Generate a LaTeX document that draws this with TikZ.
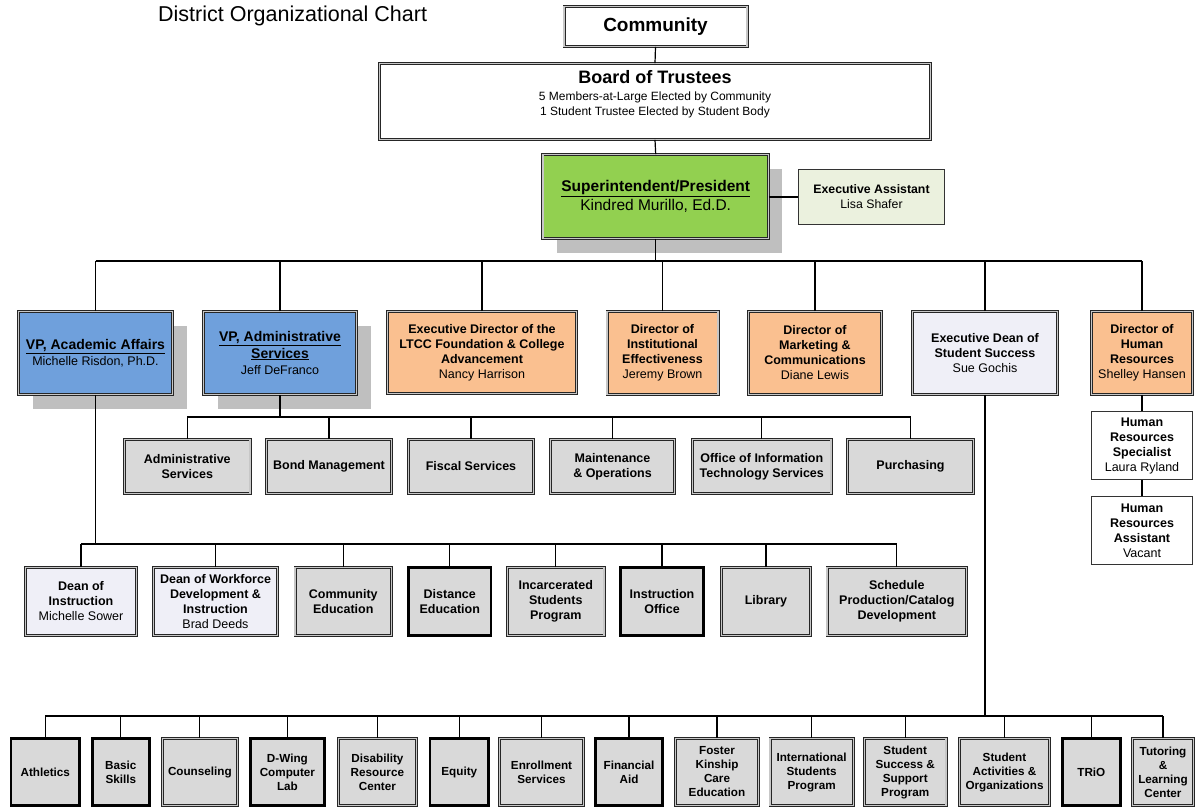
\documentclass[tikz,border=0pt]{standalone}
\usepackage{fontspec}
\setmainfont{Liberation Sans}
\usetikzlibrary{shadows}
\definecolor{supgreen}{HTML}{92D050}
\definecolor{eagreen}{HTML}{EBF1DE}
\definecolor{vpblue}{HTML}{6FA0DC}
\definecolor{peach}{HTML}{FAC090}
\definecolor{lav}{HTML}{EFEFF7}
\definecolor{greybox}{HTML}{D9D9D9}
\definecolor{shadowgrey}{HTML}{BFBFBF}
\newcommand{\fs}[2]{\fontsize{#1}{#2}\selectfont}
\newcommand\bx[7][box]{\node[#1, minimum width={(#5-3)*1pt}, minimum height={(#6-3)*1pt}] (#2) at (#3,#4) {#7};}
\tikzset{
  box/.style={draw=black!85, line width=0.8pt, double=black!22, double distance=1.4pt, align=center, inner sep=1pt, font=\bfseries\fs{12.5}{15}},
  thk/.style={draw=black, line width=2.6pt, align=center, inner sep=1pt, font=\bfseries\fs{11.7}{14}},
  bot/.style={box, font=\bfseries\fs{11.7}{14}, fill=greybox},
  botk/.style={thk, fill=greybox},
  plainbox/.style={draw=black!80, line width=1pt, align=center, inner sep=1pt, font=\bfseries\fs{12.5}{15}},
  conn/.style={draw=black, line width=1.2pt},
  shad/.style={drop shadow={shadow xshift=14pt, shadow yshift=-14pt, fill=shadowgrey, opacity=1}},
}
\begin{document}
\begin{tikzpicture}[x=1pt, y=-1pt]
\useasboundingbox (0,0) rectangle (1196,809);
% title
\node[anchor=base west, inner sep=0pt, font=\fs{21.5}{24}] (title) at (158,21) {District Organizational Chart};
% top
\bx{community}{655.5}{26.5}{186}{43}{\fs{19}{22}Community}
\bx[box, fill=white]{board}{655}{101.5}{554}{79}{}
\node[anchor=north, inner sep=0pt, align=center, font=\fs{12}{15}] (boardtxt) at (655,70)
  {{\bfseries\fs{18}{20}Board of Trustees}\\[2.4pt]5 Members-at-Large Elected by Community\\1 Student Trustee Elected by Student Body};
\bx[box, fill=supgreen, shad, font=\bfseries\fs{15.5}{19}]{super}{655.7}{196.5}{228.5}{87}{\underline{Superintendent/President}\\\mdseries Kindred Murillo, Ed.D.}
\bx[plainbox, fill=eagreen, font=\bfseries\fs{12.3}{15}]{ea}{871.5}{197}{149}{58}{Executive Assistant\\\mdseries Lisa Shafer}
% VP row
\bx[box, fill=vpblue, shad, font=\bfseries\fs{14}{16}]{vpaa}{95.5}{353}{157}{86}{\underline{VP, Academic Affairs}\\\mdseries\fs{12.5}{15}Michelle Risdon, Ph.D.}
\bx[box, fill=vpblue, shad, font=\bfseries\fs{14}{16.5}]{vpas}{280}{353}{156}{86}{\underline{VP, Administrative}\\\underline{Services}\\\mdseries\fs{12.5}{15}Jeff DeFranco}
\bx[box, fill=peach]{edf}{482}{352.5}{191.5}{85}{Executive Director of the\\LTCC Foundation \& College\\Advancement\\\mdseries Nancy Harrison}
\bx[box, fill=peach]{die}{662.5}{353}{114}{86}{Director of\\Institutional\\Effectiveness\\\mdseries Jeremy Brown}
\bx[box, fill=peach]{dmc}{815}{353}{135.5}{86}{Director of\\Marketing \&\\Communications\\\mdseries Diane Lewis}
\bx[box, fill=lav]{eds}{985}{353}{148}{86}{Executive Dean of\\Student Success\\\mdseries Sue Gochis}
\bx[box, fill=peach]{dhr}{1142}{353}{104}{86}{Director of\\Human\\Resources\\\mdseries Shelley Hansen}
% HR staff
\bx[plainbox, fill=white]{hrs}{1142}{445.5}{104}{71}{Human\\Resources\\Specialist\\\mdseries Laura Ryland}
\bx[plainbox, fill=white]{hra}{1142}{530.5}{104}{71}{Human\\Resources\\Assistant\\\mdseries Vacant}
% grey row
\bx[box, fill=greybox]{adms}{187.25}{466.5}{128.5}{57}{Administrative\\Services}
\bx[box, fill=greybox]{bond}{329}{466.5}{128}{57}{Bond Management}
\bx[box, fill=greybox]{fisc}{471}{466.5}{128}{57}{Fiscal Services}
\bx[box, fill=greybox]{mnt}{612.5}{466.5}{127}{57}{Maintenance\\\& Operations}
\bx[box, fill=greybox]{oit}{761.8}{466.5}{141.6}{57}{Office of Information\\Technology Services}
\bx[box, fill=greybox]{purch}{910.5}{466.5}{129}{57}{Purchasing}
% dean row
\bx[box, fill=lav]{doi}{81}{601.5}{114}{71}{Dean of\\Instruction\\\mdseries Michelle Sower}
\bx[box, fill=lav]{dwd}{215.5}{601.5}{127}{71}{Dean of Workforce\\Development \&\\Instruction\\\mdseries Brad Deeds}
\bx[box, fill=greybox]{ced}{343.25}{601.5}{99.5}{71}{Community\\Education}
\bx[thk, fill=greybox, font=\bfseries\fs{12.5}{15}]{ded}{449.75}{601.5}{85.5}{71}{Distance\\Education}
\bx[box, fill=greybox]{isp}{555.75}{601.5}{99.5}{71}{Incarcerated\\Students\\Program}
\bx[thk, fill=greybox, font=\bfseries\fs{12.5}{15}]{iof}{662}{601.5}{86}{71}{Instruction\\Office}
\bx[box, fill=greybox]{lib}{766}{601.5}{92}{71}{Library}
\bx[box, fill=greybox]{spc}{896.8}{601.5}{142.4}{71}{Schedule\\Production/Catalog\\Development}
% bottom row
\bx[botk]{ath}{45.3}{772}{71.4}{70}{Athletics}
\bx[botk]{bsk}{120.85}{772}{60.3}{70}{Basic\\Skills}
\bx[bot]{cou}{199.85}{772}{78.3}{70}{Counseling}
\bx[botk]{dwg}{287.4}{772}{77.2}{70}{D-Wing\\Computer\\Lab}
\bx[bot]{drc}{377.4}{772}{81.2}{70}{Disability\\Resource\\Center}
\bx[botk]{equ}{459.3}{772}{61.4}{70}{Equity}
\bx[bot]{ens}{541.5}{772}{87}{70}{Enrollment\\Services}
\bx[botk]{fin}{629}{772}{70}{70}{Financial\\Aid}
\bx[bot]{fkc}{717}{772}{86}{70}{Foster\\Kinship\\Care\\Education}
\bx[bot]{isp2}{811.6}{772}{86.2}{70}{International\\Students\\Program}
\bx[bot]{sss}{905.25}{772}{84.5}{70}{Student\\Success \&\\Support\\Program}
\bx[bot]{sao}{1004.5}{772}{93}{70}{Student\\Activities \&\\Organizations}
\bx[botk]{trio}{1091.35}{772}{61.3}{70}{TRiO}
\bx[bot]{tlc}{1163}{772}{64}{70}{Tutoring\\\&\\Learning\\Center}
% connectors
\coordinate (bus1) at (0,261);
\coordinate (bus2) at (0,417);
\coordinate (bus3) at (0,544);
\coordinate (bus4) at (0,716);
\draw[conn] (community.south) -- (board.north);
\draw[conn] (board.south) -- (super.north);
\draw[conn] (super.east |- ea.west) -- (ea.west);
\draw[conn] (super.south) -- (super.south |- bus1);
\draw[conn] (vpaa.north |- bus1) -- (dhr.north |- bus1);
\foreach \n in {vpaa,vpas,edf,die,dmc,eds,dhr} \draw[conn] (\n.north) -- (\n.north |- bus1);
\draw[conn] (dhr.south) -- (hrs.north);
\draw[conn] (hrs.south) -- (hra.north);
\draw[conn] (vpas.south) -- (vpas.south |- bus2);
\draw[conn] (adms.north |- bus2) -- (purch.north |- bus2);
\foreach \n in {adms,bond,fisc,mnt,oit,purch} \draw[conn] (\n.north) -- (\n.north |- bus2);
\draw[conn] (vpaa.south) -- (vpaa.south |- bus3);
\draw[conn] (doi.north |- bus3) -- (spc.north |- bus3);
\foreach \n in {doi,dwd,ced,ded,isp,iof,lib,spc} \draw[conn] (\n.north) -- (\n.north |- bus3);
\draw[conn] (eds.south) -- (eds.south |- bus4);
\draw[conn] (ath.north |- bus4) -- (tlc.north |- bus4);
\foreach \n in {ath,bsk,cou,dwg,drc,equ,ens,fin,fkc,isp2,sss,sao,trio,tlc} \draw[conn] (\n.north) -- (\n.north |- bus4);
\end{tikzpicture}
\end{document}
